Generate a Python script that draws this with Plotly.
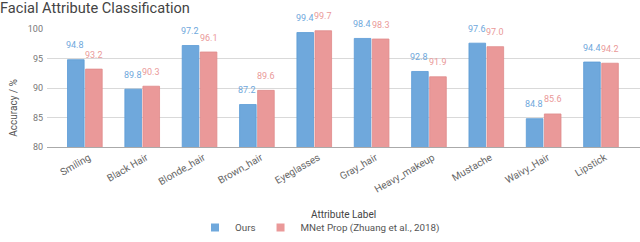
import plotly.graph_objects as go

categories = ["Smiling", "Black Hair", "Blonde_hair", "Brown_hair", "Eyeglasses",
              "Gray_hair", "Heavy_makeup", "Mustache", "Waivy_Hair", "Lipstick"]
ours = [94.8, 89.8, 97.2, 87.2, 99.4, 98.4, 92.8, 97.6, 84.8, 94.4]
mnet = [93.2, 90.3, 96.1, 89.6, 99.7, 98.3, 91.9, 97.0, 85.6, 94.2]
series_names = ["Ours", "MNet Prop (Zhuang et al., 2018)"]
y_ticks = [80, 85, 90, 95, 100]

blue = "#6fa8dc"
pink = "#ea9999"
font = "Roboto"

fig = go.Figure()
fig.add_trace(go.Bar(
    x=categories, y=ours, name=series_names[0], showlegend=False,
    marker=dict(color=blue, line=dict(color="#5b9bd5", width=0.8)),
))
fig.add_trace(go.Bar(
    x=categories, y=mnet, name=series_names[1], showlegend=False,
    marker=dict(color=pink, line=dict(color="#e08a8a", width=0.8)),
))
# legend entries with small square swatches
for name, color in zip(series_names, (blue, pink)):
    fig.add_trace(go.Scatter(
        x=[None], y=[None], mode="markers", name=name,
        marker=dict(symbol="square", size=8, color=color),
    ))

annotations = []
for series, color, dx in ((ours, blue, -9.5), (mnet, pink, 9)):
    for cat, v in zip(categories, series):
        annotations.append(dict(
            x=cat, y=v, xref="x", yref="y", text=f"{v:.1f}", showarrow=False,
            xshift=dx, yshift=14.5, xanchor="center", yanchor="middle",
            font=dict(size=9, color=color, family=font),
        ))

annotations += [
    dict(text="Accuracy / %", xref="paper", yref="paper", x=-0.057, y=0.335,
         xanchor="center", yanchor="middle", textangle=-90, showarrow=False,
         font=dict(size=10, color="#555")),
    dict(text="Attribute Label", xref="paper", yref="paper",
         x=0.5, y=-0.568, xanchor="center", yanchor="middle",
         showarrow=False, font=dict(size=10, color="#444")),
]

fig.update_layout(
    width=640, height=242,
    margin=dict(l=47, r=0, t=29, b=95, autoexpand=False),
    paper_bgcolor="white", plot_bgcolor="white",
    font=dict(family=font, color="#666"),
    barmode="group", bargap=0.37, bargroupgap=0.08,
    showlegend=True,
    legend=dict(orientation="h", xref="container", yref="container",
                x=0.5, xanchor="center", y=-0.035, yanchor="bottom",
                font=dict(size=9.8, color="#555"), itemwidth=30,
                traceorder="normal"),
    title=dict(text="Facial Attribute Classification", x=0.0, xref="container",
               xanchor="left", y=1 - 8 / 242, yref="container", yanchor="middle",
               font=dict(size=14.6, color="#444", family=font), pad=dict(l=0)),
    xaxis=dict(
        type="category", range=[-0.66, 9.68], tickangle=-30, automargin=False,
        tickfont=dict(size=10, color="#666"), showgrid=False, ticklabelshift=4,
        showline=True, linecolor="#aaa", linewidth=1, ticks="",
    ),
    yaxis=dict(
        range=[80, 100], tickvals=y_ticks, tickfont=dict(size=9, color="#777"),
        showgrid=True, gridcolor="#d9d9d9", gridwidth=1, zeroline=False,
        showline=False, ticks="", ticklabelstandoff=3, automargin=False,
    ),
    annotations=annotations,
)

fig.write_html("out.html", config={"displayModeBar": False},
               post_script="document.body.style.margin='0';document.body.style.padding='0';")
